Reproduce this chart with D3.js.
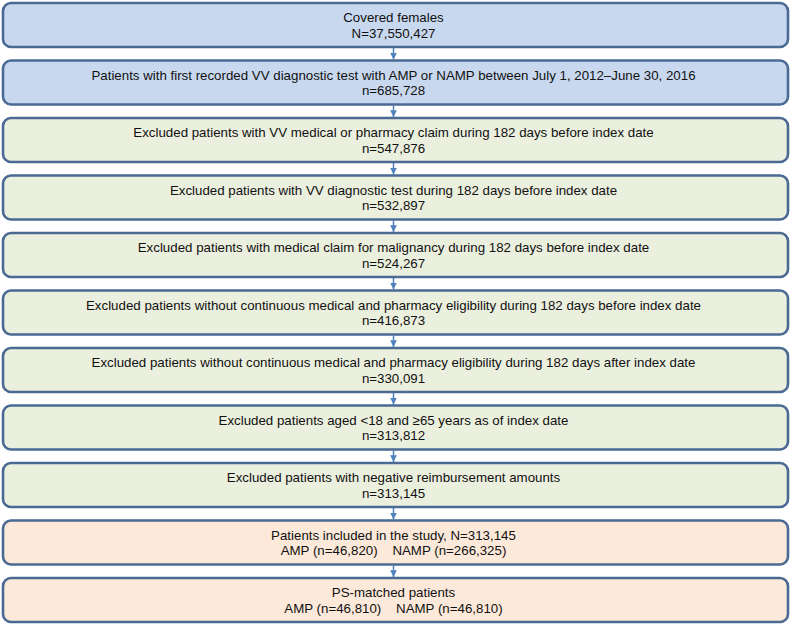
<!DOCTYPE html>
<html><head><meta charset="utf-8">
<script src="https://cdn.jsdelivr.net/npm/d3@7"></script>
<style>body{margin:0;background:#fff}svg{display:block}</style>
</head><body>
<script>
const stepLabels = [
  "Covered females",
  "Patients with first recorded VV diagnostic test with AMP or NAMP between July 1, 2012\u2013June 30, 2016",
  "Excluded patients with VV medical or pharmacy claim during 182 days before index date",
  "Excluded patients with VV diagnostic test during 182 days before index date",
  "Excluded patients with medical claim for malignancy during 182 days before index date",
  "Excluded patients without continuous medical and pharmacy eligibility during 182 days before index date",
  "Excluded patients without continuous medical and pharmacy eligibility during 182 days after index date",
  "Excluded patients aged <18 and \u226565 years as of index date",
  "Excluded patients with negative reimbursement amounts",
  "Patients included in the study, N=313,145",
  "PS-matched patients"
];
const stepCounts = [
  "N=37,550,427", "n=685,728", "n=547,876", "n=532,897", "n=524,267",
  "n=416,873", "n=330,091", "n=313,812", "n=313,145",
  "AMP (n=46,820)    NAMP (n=266,325)",
  "AMP (n=46,810)    NAMP (n=46,810)"
];
const stepGroups = ["cohort","cohort","excl","excl","excl","excl","excl","excl","excl","final","final"];

const W = 793, H = 627;
const svg = d3.select("body").append("svg").attr("width", W).attr("height", H);
const y = d3.scaleBand().domain(d3.range(stepLabels.length)).range([3, 622]).paddingInner(0.235).paddingOuter(0);
const x = d3.scaleLinear().domain([0, 1]).range([3, 788]);
const fill = d3.scaleOrdinal().domain(["cohort","excl","final"]).range(["#c8d9ef","#ebefde","#fce9da"]);

svg.append("defs").append("marker").attr("id","ah").attr("viewBox","0 0 10 10")
  .attr("refX",10).attr("refY",5).attr("markerWidth",4.5).attr("markerHeight",4.5).attr("orient","auto")
  .append("path").attr("d","M0,0L10,5L0,10z").attr("fill","#4f81bd");

const cx = x(0.5) - 2;
stepLabels.slice(1).forEach((_, i) => {
  svg.append("line").attr("x1", cx).attr("x2", cx)
    .attr("y1", y(i) + y.bandwidth() + 1).attr("y2", y(i + 1) - 1)
    .attr("stroke", "#4f81bd").attr("stroke-width", 1.5).attr("marker-end", "url(#ah)");
});

const g = svg.selectAll("g.box").data(stepLabels).join("g").attr("class", "box");
g.append("rect").attr("x", x(0)).attr("y", (d, i) => y(i))
  .attr("width", x(1) - x(0)).attr("height", y.bandwidth())
  .attr("rx", 8).attr("ry", 8)
  .attr("fill", (d, i) => fill(stepGroups[i]))
  .attr("stroke", "#4a6a94").attr("stroke-width", 2.6);
g.append("text").attr("x", cx).attr("y", (d, i) => y(i) + 19)
  .attr("text-anchor", "middle").attr("font-family", "Liberation Sans, Arial, sans-serif")
  .attr("font-size", 13.3).attr("fill", "#111").text(d => d);
g.append("text").attr("x", cx).attr("y", (d, i) => y(i) + 34.5)
  .attr("text-anchor", "middle").attr("font-family", "Liberation Sans, Arial, sans-serif")
  .attr("font-size", 13.3).attr("fill", "#111").attr("xml:space", "preserve")
  .style("white-space", "pre").text((d, i) => stepCounts[i]);
</script>
</body></html>
